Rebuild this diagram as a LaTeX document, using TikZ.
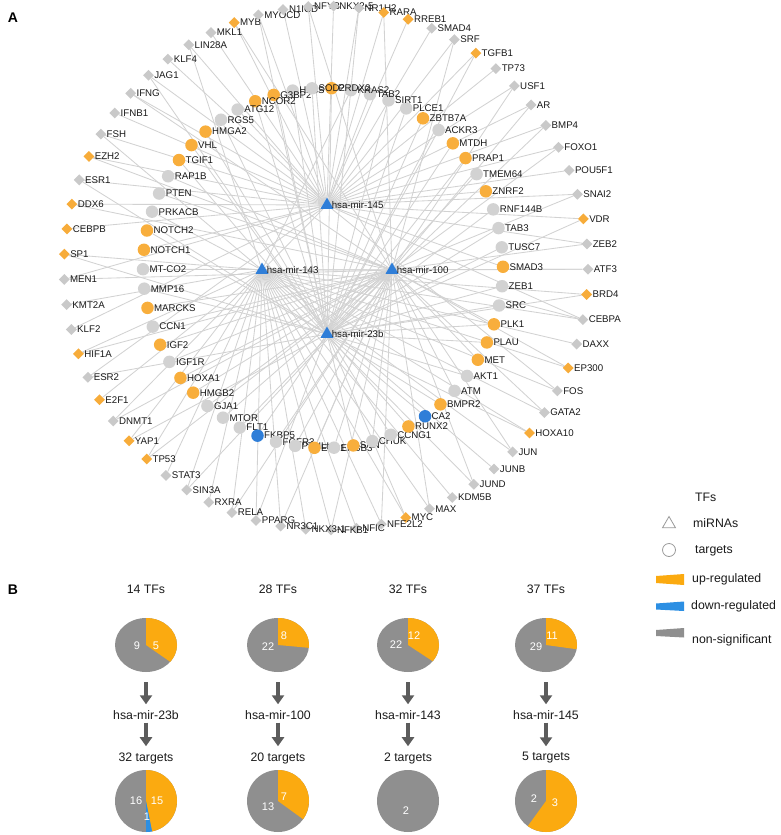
\documentclass[tikz,border=0pt]{standalone}
\usepackage{fontspec}
\setmainfont{Liberation Sans}
\usetikzlibrary{shapes.geometric,arrows.meta}
\pgfdeclarelayer{bg}
\pgfsetlayers{bg,main}
\definecolor{edgec}{HTML}{D2D2D2}
\definecolor{cg}{HTML}{C9C9C9}
\definecolor{co}{HTML}{F7AC3A}
\definecolor{tg}{HTML}{D2D2D2}
\definecolor{to}{HTML}{F8AE3C}
\definecolor{tb}{HTML}{2F7ED8}
\definecolor{mirc}{HTML}{2F7ED8}
\definecolor{pieo}{HTML}{FBAA10}
\definecolor{pieg}{HTML}{8F8F8F}
\definecolor{pieb}{HTML}{2C8FE3}
\definecolor{arrc}{HTML}{5C5C5C}
\definecolor{txt}{HTML}{1A1A1A}
\begin{document}
\begin{tikzpicture}[x=1pt,y=-1pt,
  edge/.style={draw=edgec, line width=0.85pt},
  lbl/.style={font=\fontsize{9.7}{11}\selectfont, text=txt, inner sep=0pt},
  tfnode/.style={diamond, fill=#1, minimum size=11pt, inner sep=0pt, label distance=2.5pt},
  tgnode/.style={circle, fill=#1, minimum size=12.5pt, inner sep=0pt, label distance=2.5pt},
  mirnode/.style={regular polygon, regular polygon sides=3, fill=mirc, minimum size=15pt, inner sep=0pt, label distance=4.5pt},
  btxt/.style={font=\fontsize{12.3}{14}\selectfont, text=txt, inner sep=0pt},
  num/.style={font=\fontsize{11}{12}\selectfont, text=white, inner sep=0pt},
  pienode/.style={ellipse, fill=pieg, inner sep=0pt, minimum width=62pt, minimum height=#1},
  bigarrow/.style={draw=arrc, line width=4pt, -{Triangle[width=12pt,length=9pt]}},
  legtxt/.style={font=\fontsize{12.3}{14}\selectfont, text=txt, inner sep=0pt, anchor=west},
  panel/.style={font=\bfseries\fontsize{14}{16}\selectfont, text=black, inner sep=0pt}
]
\useasboundingbox (0,0) rectangle (780,835);

\node[panel] (pa) at (13,18) {A};
\node[panel] (pb) at (13,590) {B};

% ---------- TFs (outer ring)
\foreach \i/\nm/\c in {0/AR/cg,1/BMP4/cg,2/FOXO1/cg,3/POU5F1/cg,4/SNAI2/cg,5/VDR/co,6/ZEB2/cg,7/ATF3/cg,8/BRD4/co,9/CEBPA/cg,10/DAXX/cg,11/EP300/co,12/FOS/cg,13/GATA2/cg,14/HOXA10/co,15/JUN/cg,16/JUNB/cg,17/JUND/cg,18/KDM5B/cg,19/MAX/cg,20/MYC/co,21/NFE2L2/cg,22/NFIC/cg,23/NFKB1/cg,24/NKX3-1/cg,25/NR3C1/cg,26/PPARG/cg,27/RELA/cg,28/RXRA/cg,29/SIN3A/cg,30/STAT3/cg,31/TP53/co,32/YAP1/co,33/DNMT1/cg,34/E2F1/co,35/ESR2/cg,36/HIF1A/co,37/KLF2/cg,38/KMT2A/cg,39/MEN1/cg,40/SP1/co,41/CEBPB/co,42/DDX6/co,43/ESR1/cg,44/EZH2/co,45/FSH/cg,46/IFNB1/cg,47/IFNG/cg,48/JAG1/cg,49/KLF4/cg,50/LIN28A/cg,51/MKL1/cg,52/MYB/co,53/MYOCD/cg,54/N1ICD/cg,55/NFYB/cg,56/NKX2-5/cg,57/NR1H2/cg,58/RARA/co,59/RREB1/co,60/SMAD4/cg,61/SRF/cg,62/TGFB1/co,63/TP73/cg,64/USF1/cg}{
  \pgfmathsetmacro\ang{38.5-5.53846*\i}
  \node[tfnode=\c, label={[lbl]right:\nm}] (f\i) at ({326+262*cos(\ang)},{268-262*sin(\ang)}) {};
}

% ---------- targets (inner ring)
\foreach \k/\nm/\c in {1/HS3ST2/tg,2/G3BP2/to,3/NCOR2/to,4/ATG12/tg,5/RGS5/tg,6/HMGA2/to,7/VHL/to,8/TGIF1/to,9/RAP1B/tg,10/PTEN/tg,11/PRKACB/tg,12/NOTCH2/to,13/NOTCH1/to,14/MT-CO2/tg,15/MMP16/tg,16/MARCKS/to,17/CCN1/tg,18/IGF2/to,19/IGF1R/tg,20/HOXA1/to,21/HMGB2/to,22/GJA1/tg,23/MTOR/tg,24/FLT1/tg,25/FKBP5/tb,26/FGFR3/tg,27/PTHLH/tg,28/ETS1/to,29/ERBB3/tg,30/SAN/to,31/CHUK/tg,32/CCNG1/tg,33/RUNX2/to,34/CA2/tb,35/BMPR2/to,36/ATM/tg,37/AKT1/tg,38/MET/to,39/PLAU/to,40/PLK1/to,41/SRC/tg,42/ZEB1/tg,43/SMAD3/to,44/TUSC7/tg,45/TAB3/tg,46/RNF144B/tg,47/ZNRF2/to,48/TMEM64/tg,49/PRAP1/to,50/MTDH/to,51/ACKR3/tg,52/ZBTB7A/to,53/PLCE1/tg,54/SIRT1/tg,55/TAB2/tg,56/KRAS2/tg,57/PRDX2/to,58/SOD2/tg}{
  \pgfmathsetmacro\ang{99.7+6.2069*(\k-1)}
  \node[tgnode=\c, label={[lbl]right:\nm}] (t\k) at ({323+180*cos(\ang)},{268-180*sin(\ang)}) {};
}

% ---------- miRNAs
\node[mirnode, label={[lbl]right:hsa-mir-145}] (m145) at (327,205) {};
\node[mirnode, label={[lbl]right:hsa-mir-143}] (m143) at (262,270) {};
\node[mirnode, label={[lbl]right:hsa-mir-100}] (m100) at (392,270) {};
\node[mirnode, label={[lbl]right:hsa-mir-23b}] (m23b) at (327,334) {};

% ---------- edges
\begin{pgfonlayer}{bg}
\foreach \i in {0,1,2,3,4,5,6,41,42,43,44,45,46,47,48,49,50,51,52,53,54,55,56,57,58,59,60,61,62,63,64,33,35,37,39,9,12}
  \draw[edge] (m145) -- (f\i);
\foreach \i in {7,8,9,10,11,12,13,14,15,16,17,18,19,20,21,22,23,24,25,26,27,28,29,30,31,32,34,36,38,40,45,50}
  \draw[edge] (m143) -- (f\i);
\foreach \i in {0,2,4,6,7,9,11,13,15,17,19,21,23,25,27,29,31,42,44,47,52,55,58,61,64,33,36,39}
  \draw[edge] (m100) -- (f\i);
\foreach \i in {8,14,20,26,32,43,48,53,57,62,1,5,35,40}
  \draw[edge] (m23b) -- (f\i);
\foreach \k in {9,10,14,16,17,18,19,20,21,22,23,24,26,27,28,29,31,36,38,40}
  \draw[edge] (m100) -- (t\k);
\foreach \k in {11,56}
  \draw[edge] (m143) -- (t\k);
\foreach \k in {4,13,43,47,55}
  \draw[edge] (m145) -- (t\k);
\foreach \k in {1,2,3,5,6,7,8,12,15,25,30,32,33,34,35,37,39,40,41,42,44,45,46,48,49,50,51,52,53,54,57,58}
  \draw[edge] (m23b) -- (t\k);
\end{pgfonlayer}

% ---------- legend
\node[legtxt] (lgtf) at (695,497) {TFs};
\node[regular polygon, regular polygon sides=3, draw=gray!80, line width=0.8pt, minimum size=15pt, inner sep=0pt] (lgmir) at (669,524) {};
\node[legtxt] (lgmirt) at (693,523) {miRNAs};
\node[circle, draw=gray!80, line width=0.8pt, minimum size=13pt, inner sep=0pt] (lgtg) at (669,550) {};
\node[legtxt] (lgtgt) at (695,551) {targets};
\fill[pieo] (656,576) -- (684,574) -- (684,585) -- (656,583) -- cycle;
\node[legtxt] (lgup) at (692,579) {up-regulated};
\fill[pieb] (656,603.5) -- (684,601.5) -- (684,611) -- (656,609.5) -- cycle;
\node[legtxt] (lgdn) at (691,606.5) {down-regulated};
\fill[pieg] (656,630) -- (684,628) -- (684,637.5) -- (656,636) -- cycle;
\node[legtxt] (lgns) at (692,640) {non-significant};

% ---------- panel B
\foreach \j/\x/\tf/\mir/\tg in {1/146/14 TFs/hsa-mir-23b/32 targets,2/278/28 TFs/hsa-mir-100/20 targets,3/408/32 TFs/hsa-mir-143/2 targets,4/546/37 TFs/hsa-mir-145/5 targets}{
  \node[btxt] (ttl\j) at (\x,589) {\tf};
  \node[pienode=54pt] (pt\j) at (\x,645) {};
  \node[btxt] (mr\j) at (\x,715) {\mir};
  \node[btxt] (tt\j) at (\x,758) {\tg};
  \node[pienode=62pt] (pq\j) at (\x,801) {};
  \draw[bigarrow, shorten <=10pt, shorten >=6pt] (pt\j) -- (mr\j);
  \draw[bigarrow, shorten <=3pt, shorten >=6pt] (mr\j) -- (tt\j);
}
% top pies slices
\fill[pieo] (pt1.center) -- ++(0,-27) arc[start angle=-90, end angle={-90+360*5/14}, x radius=31, y radius=27] -- cycle;
\fill[pieo] (pt2.center) -- ++(0,-27) arc[start angle=-90, end angle={-90+360*8/30}, x radius=31, y radius=27] -- cycle;
\fill[pieo] (pt3.center) -- ++(0,-27) arc[start angle=-90, end angle={-90+360*12/34}, x radius=31, y radius=27] -- cycle;
\fill[pieo] (pt4.center) -- ++(0,-27) arc[start angle=-90, end angle={-90+360*11/40}, x radius=31, y radius=27] -- cycle;
% bottom pies slices
\fill[pieo] (pq1.center) -- ++(0,-31) arc[start angle=-90, end angle={-90+360*15/32}, x radius=31, y radius=31] -- cycle;
\fill[pieb] (pq1.center) -- ({146+31*cos(-90+360*15/32)},{801+31*sin(-90+360*15/32)}) arc[start angle={-90+360*15/32}, end angle={-90+360*16/32}, x radius=31, y radius=31] -- cycle;
\fill[pieo] (pq2.center) -- ++(0,-31) arc[start angle=-90, end angle={-90+360*7/20}, x radius=31, y radius=31] -- cycle;
\fill[pieo] (pq4.center) -- ++(0,-31) arc[start angle=-90, end angle={-90+360*3/5}, x radius=31, y radius=31] -- cycle;
% numbers
\node[num] (n1a) at (156,646) {5};
\node[num] (n1b) at (137,646) {9};
\node[num] (n2a) at (284,636) {8};
\node[num] (n2b) at (268,647) {22};
\node[num] (n3a) at (414,636) {12};
\node[num] (n3b) at (396,645) {22};
\node[num] (n4a) at (552,636) {11};
\node[num] (n4b) at (536,647) {29};
\node[num] (q1a) at (157,801) {15};
\node[num] (q1b) at (136,801) {16};
\node[num] (q1c) at (147,817) {1};
\node[num] (q2a) at (284,797) {7};
\node[num] (q2b) at (268,807) {13};
\node[num] (q3a) at (406,811) {2};
\node[num] (q4a) at (555,803) {3};
\node[num] (q4b) at (534,799) {2};
\end{tikzpicture}
\end{document}
